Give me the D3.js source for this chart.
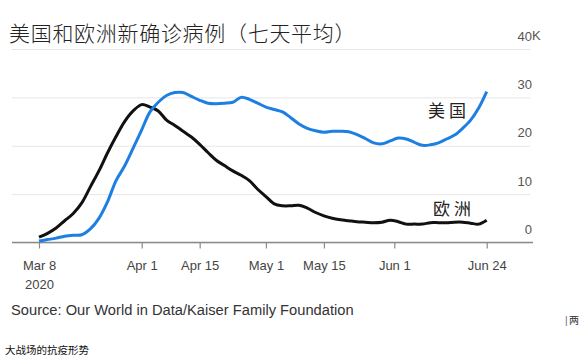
<!DOCTYPE html>
<html>
<head>
<meta charset="utf-8">
<script src="https://cdn.jsdelivr.net/npm/d3@7"></script>
<style>
  body { margin: 0; background: #fff; }
  svg { display: block; }
</style>
</head>
<body>
<svg id="chart" width="585" height="362"></svg>
<script>
// ---- data (thousands of new cases, 7-day average), every 2 days
const dates = [
  "2020-03-08","2020-03-10","2020-03-12","2020-03-14","2020-03-16","2020-03-18","2020-03-20","2020-03-22",
  "2020-03-24","2020-03-26","2020-03-28","2020-03-30","2020-04-01","2020-04-03","2020-04-05","2020-04-07",
  "2020-04-09","2020-04-11","2020-04-13","2020-04-15","2020-04-17","2020-04-19","2020-04-21","2020-04-23",
  "2020-04-25","2020-04-27","2020-04-29","2020-05-01","2020-05-03","2020-05-05","2020-05-07","2020-05-09",
  "2020-05-11","2020-05-13","2020-05-15","2020-05-17","2020-05-19","2020-05-21","2020-05-23","2020-05-25",
  "2020-05-27","2020-05-29","2020-05-31","2020-06-02","2020-06-04","2020-06-06","2020-06-08","2020-06-10",
  "2020-06-12","2020-06-14","2020-06-16","2020-06-18","2020-06-20","2020-06-22","2020-06-24"
];
const usCases = [
  0.3,0.6,0.9,1.3,1.5,1.6,2.8,5.0,
  8.4,12.8,15.8,19.5,23.3,27.0,29.0,30.4,
  31.0,31.0,30.2,29.4,28.8,28.7,28.8,29.0,
  30.0,29.6,28.8,28.0,27.5,27.0,25.8,24.5,
  23.6,23.1,22.8,23.0,23.0,22.9,22.3,21.5,
  20.6,20.4,21.0,21.6,21.4,20.7,20.1,20.2,
  20.6,21.4,22.2,23.6,25.3,27.8,31.2
];
const europeCases = [
  1.1,1.9,3.0,4.5,6.0,8.2,11.5,14.8,
  18.5,21.9,25.0,27.2,28.5,28.0,27.2,25.3,
  24.2,23.0,21.8,20.3,18.6,17.0,15.9,14.8,
  13.9,12.8,11.0,9.5,8.0,7.6,7.6,7.7,
  7.1,6.2,5.5,5.0,4.7,4.5,4.3,4.2,
  4.1,4.2,4.6,4.3,3.8,3.8,3.8,4.1,
  4.1,4.1,4.2,4.2,4.0,3.8,4.6
];
const xTickDates = ["2020-03-08","2020-04-01","2020-04-15","2020-05-01","2020-05-15","2020-06-01","2020-06-24"];
const xTickLabels = ["Mar 8","Apr 1","Apr 15","May 1","May 15","Jun 1","Jun 24"];
const yTicks = [0, 10, 20, 30, 40];

const parse = d3.timeParse("%Y-%m-%d");
const latin = "'Liberation Sans', Arial, Helvetica, sans-serif";
const cjk = "'Noto Sans CJK SC', sans-serif";

const svg = d3.select("#chart");

// scales
const x = d3.scaleTime()
  .domain([parse("2020-03-08"), parse("2020-04-01"), parse("2020-06-01"), parse("2020-06-24")])
  .range([39, 141.7, 394.3, 486.7]);
const y = d3.scaleLinear().domain([0, 40]).range([242.5, 49]);

// gridlines + y labels
const yAxisG = svg.append("g")
  .attr("transform", "translate(12,0)")
  .call(d3.axisRight(y).tickValues(yTicks).tickSize(518).tickFormat(d => d));
yAxisG.select(".domain").remove();
yAxisG.selectAll(".tick line").attr("stroke", "#e6e6e6").attr("stroke-width", 1);
yAxisG.selectAll(".tick text")
  .attr("x", 520).attr("dy", -9)
  .attr("text-anchor", "end")
  .attr("fill", "#555")
  .style("font-size", "13px")
  .style("font-family", latin);
svg.append("text")
  .attr("x", 532).attr("y", y(40) - 9)
  .text("K")
  .attr("fill", "#555")
  .style("font-size", "13px")
  .style("font-family", latin);

// x axis
svg.append("line")
  .attr("x1", 12).attr("x2", 533)
  .attr("y1", y(0)).attr("y2", y(0))
  .attr("stroke", "#8a8a8a").attr("stroke-width", 1.4);
const xAxisG = svg.append("g")
  .attr("transform", `translate(0,${y(0)})`)
  .call(d3.axisBottom(x).tickValues(xTickDates.map(parse)).tickSize(6)
    .tickFormat((d, i) => xTickLabels[i]));
xAxisG.select(".domain").remove();
xAxisG.selectAll(".tick line").attr("stroke", "#8a8a8a").attr("stroke-width", 1.2);
xAxisG.selectAll(".tick text")
  .attr("y", 18)
  .attr("fill", "#444")
  .style("font-size", "13px")
  .style("font-family", latin);
xAxisG.select(".tick text")
  .append("tspan").attr("x", 0).attr("dy", "1.45em").text("2020");

// lines
const line = d3.line()
  .x((d, i) => x(parse(dates[i])))
  .y(d => y(d))
  .curve(d3.curveCatmullRom);

svg.append("path")
  .datum(europeCases)
  .attr("d", line)
  .attr("fill", "none")
  .attr("stroke", "#111")
  .attr("stroke-width", 3)
  .attr("stroke-linejoin", "round");

svg.append("path")
  .datum(usCases)
  .attr("d", line)
  .attr("fill", "none")
  .attr("stroke", "#1e7fe3")
  .attr("stroke-width", 3)
  .attr("stroke-linejoin", "round");

// series labels
svg.append("text")
  .attr("x", 428).attr("y", 117)
  .text("美国")
  .attr("fill", "#222")
  .style("letter-spacing", "4px")
  .style("font-size", "17px")
  .style("font-family", cjk);
svg.append("text")
  .attr("x", 433).attr("y", 215)
  .text("欧洲")
  .attr("fill", "#222")
  .style("letter-spacing", "4px")
  .style("font-size", "17px")
  .style("font-family", cjk);

// title
svg.append("text")
  .attr("x", 9).attr("y", 41)
  .text("美国和欧洲新确诊病例（七天平均）")
  .attr("fill", "#222")
  .style("font-size", "21px")
  .style("letter-spacing", "0.7px")
  .style("font-weight", 300)
  .style("font-family", cjk);

// source
svg.append("text")
  .attr("x", 11).attr("y", 315)
  .text("Source: Our World in Data/Kaiser Family Foundation")
  .attr("fill", "#333")
  .style("font-size", "14.7px")
  .style("font-family", latin);

// page text around the chart
svg.append("text")
  .attr("x", 565).attr("y", 324)
  .text("|")
  .attr("fill", "#666")
  .style("font-size", "10px")
  .style("font-family", latin);
svg.append("text")
  .attr("x", 569).attr("y", 324)
  .text("两")
  .attr("fill", "#333")
  .style("font-size", "10px")
  .style("font-family", cjk);
svg.append("text")
  .attr("x", 5).attr("y", 354)
  .text("大战场的抗疫形势")
  .attr("fill", "#111")
  .style("font-size", "10.5px")
  .style("font-family", cjk);
</script>
</body>
</html>
